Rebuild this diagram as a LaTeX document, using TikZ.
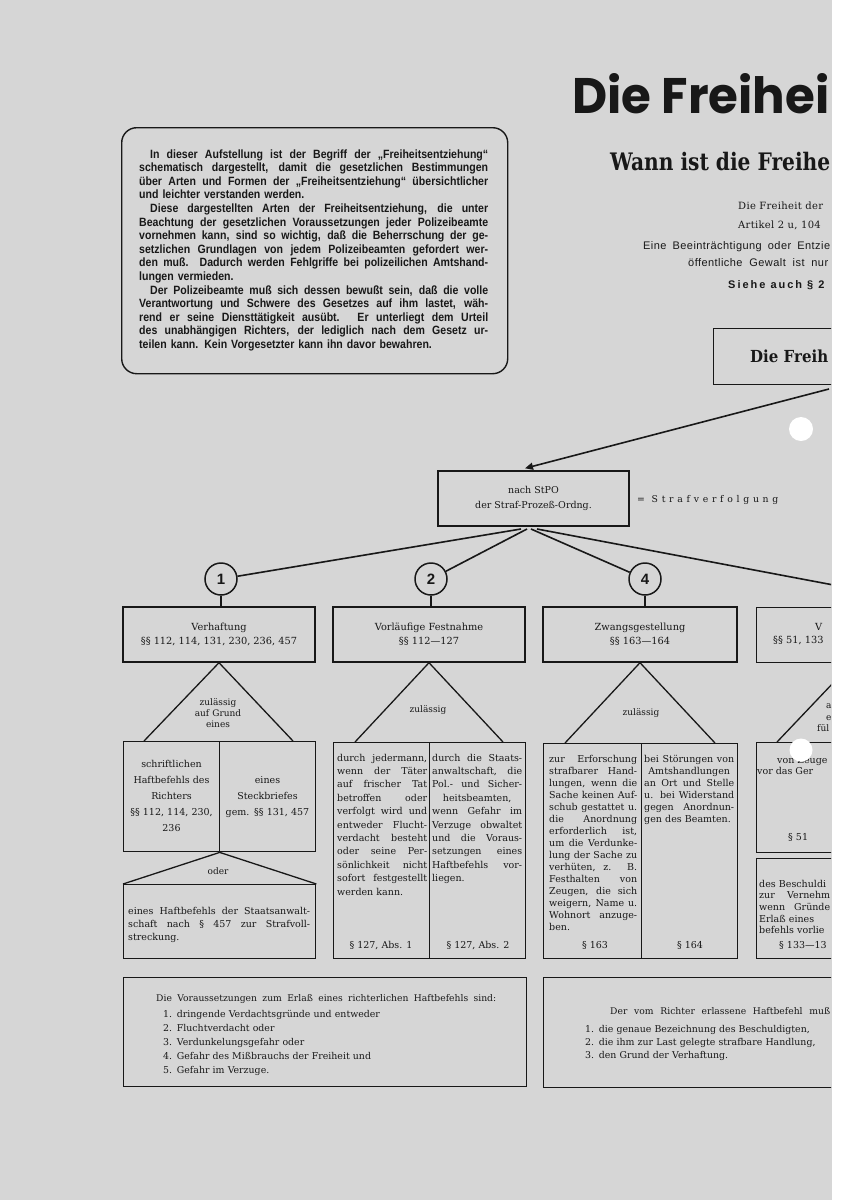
\documentclass[tikz,border=0pt]{standalone}
\usepackage{fontspec}
\usepackage{graphicx}
\setmainfont{DejaVu Serif}
\newfontfamily\introfont{Liberation Sans}[FakeStretch=0.88]
\newfontfamily\titlefont{Poppins}
\newfontfamily\slabfont{DejaVu Serif}
\newfontfamily\serifsp{DejaVu Serif}[LetterSpace=3]
\newfontfamily\sanssp{Liberation Sans}[LetterSpace=4]
\newfontfamily\sanswide{Liberation Sans}[LetterSpace=18]
\newfontfamily\numfont{Liberation Sans}
\newfontfamily\serifwide{DejaVu Serif}[LetterSpace=40]
\usetikzlibrary{arrows.meta}
\definecolor{paper}{RGB}{214,214,214}
\definecolor{inkc}{RGB}{24,24,24}
\newcommand\lnJ[1]{\makebox[\linewidth][s]{\spaceskip=0pt\xspaceskip=0pt #1}\par}
\newcommand\lnC[1]{\makebox[\linewidth][c]{#1}\par}
\newcommand\lnL[1]{\makebox[\linewidth][l]{#1}\par}
\tikzset{
  bx/.style={draw=inkc, line width=1.4pt, rectangle, inner sep=0pt, text=inkc},
  conn/.style={draw=inkc, line width=1.6pt},
  txt/.style={inner sep=0pt, text=inkc, anchor=base west},
  hd/.style={font=\fontsize{9.8}{14}\selectfont},
  col/.style={txt, font=\fontsize{9.5}{13.4}\selectfont},
  num/.style={circle, draw=inkc, line width=1.5pt, minimum size=32pt, inner sep=0pt, text=inkc,
              font=\numfont\bfseries\fontsize{15}{15}\selectfont},
}
\begin{document}
\begin{tikzpicture}[x=1pt,y=-1pt]
\useasboundingbox (0,0) rectangle (852,1200);
\fill[paper] (0,0) rectangle (832,1200);
\fill[white] (832,0) rectangle (852,1200);
\begin{scope}
\clip (0,0) rectangle (831,1200);

% ---------- title area ----------
\node[txt] (title) at (572,113) {\resizebox{257pt}{40pt}{\titlefont\bfseries Die Freihei}};
\node[txt] (subtitle) at (610,170) {\resizebox{220pt}{18.3pt}{\slabfont\bfseries Wann ist die Freihe}};
\node[txt, font=\serifsp\fontsize{10}{11}\selectfont] (r1) at (738,209.5) {Die Freiheit der};
\node[txt, font=\serifsp\fontsize{10}{11}\selectfont] (r2) at (738,228) {Artikel 2 u, 104};
\node[txt, font=\sanssp\fontsize{11}{12}\selectfont] (r3) at (643,249) {\makebox[187pt][s]{Eine Beeinträchtigung oder Entzie}};
\node[txt, font=\sanssp\fontsize{11}{12}\selectfont] (r4) at (688,266) {\makebox[140pt][s]{öffentliche Gewalt ist nur}};
\node[txt, font=\sanswide\bfseries\fontsize{11}{12}\selectfont] (r5) at (728,288) {Siehe auch § 2};

% ---------- intro box ----------
\node[bx, rounded corners=15pt, minimum width=386, minimum height=246, anchor=north west] (intro) at (121,127) {};
\node[txt, text width=349pt, font=\introfont\bfseries\fontsize{12}{13.6}\selectfont] (introtext) at (139,158) {%
\lnJ{\hspace{11pt}In dieser Aufstellung ist der Begriff der „Freiheitsentziehung“}
\lnJ{schematisch dargestellt, damit die gesetzlichen Bestimmungen}
\lnJ{über Arten und Formen der „Freiheitsentziehung“ übersichtlicher}
\lnL{und leichter verstanden werden.}
\lnJ{\hspace{11pt}Diese dargestellten Arten der Freiheitsentziehung, die unter}
\lnJ{Beachtung der gesetzlichen Voraussetzungen jeder Polizeibeamte}
\lnJ{vornehmen kann, sind so wichtig, daß die Beherrschung der ge-}
\lnJ{setzlichen Grundlagen von jedem Polizeibeamten gefordert wer-}
\lnJ{den muß. Dadurch werden Fehlgriffe bei polizeilichen Amtshand-}
\lnL{lungen vermieden.}
\lnJ{\hspace{11pt}Der Polizeibeamte muß sich dessen bewußt sein, daß die volle}
\lnJ{Verantwortung und Schwere des Gesetzes auf ihm lastet, wäh-}
\lnJ{rend er seine Diensttätigkeit ausübt. Er unterliegt dem Urteil}
\lnJ{des unabhängigen Richters, der lediglich nach dem Gesetz ur-}
\lnL{teilen kann. Kein Vorgesetzter kann ihn davor bewahren.}};

% ---------- Die Freih box + arrow ----------
\node[bx, minimum width=187, minimum height=56, anchor=north west] (freih) at (713,328) {};
\node[txt] (freihtext) at (750,362) {\resizebox{78pt}{12.6pt}{\slabfont\bfseries Die Freih}};
\node[bx, minimum width=191, minimum height=55, align=center, font=\fontsize{9.5}{15}\selectfont] (stpo) at (533.5,498.5) {nach StPO\\der Straf-Prozeß-Ordng.};
\coordinate (a0) at (829,389);
\draw[conn, -{Triangle[length=8pt,width=7pt]}] (a0) -- ([xshift=-8.5pt,yshift=2pt]stpo.north);
\node[txt, font=\serifwide\fontsize{9.3}{11}\selectfont] (strafv) at (637,502) {= Strafverfolgung};

% ---------- circles ----------
\node[num] (c1) at (221,579) {1};
\node[num] (c2) at (431,579) {2};
\node[num] (c4) at (645,579) {4};
\coordinate (s1) at (521,529);
\coordinate (s2) at (527,529);
\coordinate (s4) at (531,529);
\coordinate (s5) at (537,529);
\coordinate (r5end) at (860,590);
\draw[conn] (s1) -- (c1);
\draw[conn] (s2) -- (c2);
\draw[conn] (s4) -- (c4);
\draw[conn] (s5) -- (r5end);

% ---------- heading boxes ----------
\node[bx, hd, minimum width=192, minimum height=55, align=center] (b1) at (219,634.5) {Verhaftung\\§§ 112, 114, 131, 230, 236, 457};
\node[bx, hd, minimum width=192, minimum height=55, align=center] (b2) at (429,634.5) {Vorläufige Festnahme\\§§ 112—127};
\node[bx, hd, minimum width=194, minimum height=55, align=center] (b4) at (640,634.5) {Zwangsgestellung\\§§ 163—164};
\node[bx, minimum width=150, minimum height=55, anchor=north west] (b5) at (756,607) {};
\node[txt, font=\fontsize{9.8}{14}\selectfont] (b5a) at (815,630) {V};
\node[txt, font=\fontsize{9.8}{14}\selectfont] (b5b) at (773,643) {§§ 51, 133};
\draw[conn] (c1.south) -- (c1.south |- b1.north);
\draw[conn] (c2.south) -- (c2.south |- b2.north);
\draw[conn] (c4.south) -- (c4.south |- b4.north);

% ---------- triangles ----------
\coordinate (t1l) at (144,741); \coordinate (t1r) at (293,741);
\coordinate (t2l) at (355,742); \coordinate (t2r) at (503,742);
\coordinate (t4l) at (565,743); \coordinate (t4r) at (715,743);
\coordinate (t5l) at (777,742); \coordinate (t5a) at (853,662);
\draw[conn, line width=1.3pt] (t1l) -- (b1.south) -- (t1r);
\draw[conn, line width=1.3pt] (t2l) -- (b2.south) -- (t2r);
\draw[conn, line width=1.3pt] (t4l) -- (b4.south) -- (t4r);
\draw[conn, line width=1.3pt] (t5l) -- (t5a);
\node[col, anchor=base, text width=80pt, font=\fontsize{9}{11}\selectfont] (t1txt) at (218,705) {\lnC{zulässig}\lnC{auf Grund}\lnC{eines}};
\node[txt, anchor=base, font=\fontsize{9}{11}\selectfont] (t2txt) at (428,712) {zulässig};
\node[txt, anchor=base, font=\fontsize{9}{11}\selectfont] (t4txt) at (641,715) {zulässig};
\node[txt, font=\fontsize{9}{11}\selectfont] (t5a1) at (826,708) {a};
\node[txt, font=\fontsize{9}{11}\selectfont] (t5a2) at (826,720) {e};
\node[txt, font=\fontsize{9}{11}\selectfont] (t5a3) at (817,731) {fül};

% ---------- column 1 ----------
\node[bx, minimum width=192, minimum height=110, anchor=north west] (p1) at (123,741) {};
\draw[bx] (p1.north) -- (p1.south);
\node[col, anchor=base, text width=95pt, font=\fontsize{9.5}{16}\selectfont] (p1l) at (171.5,767)
  {\lnC{schriftlichen}\lnC{Haftbefehls des}\lnC{Richters}\lnC{§§ 112, 114, 230,}\lnC{236}};
\node[col, anchor=base, text width=92pt, font=\fontsize{9.5}{16}\selectfont] (p1r) at (267.5,783)
  {\lnC{eines}\lnC{Steckbriefes}\lnC{gem. §§ 131, 457}};
\node[bx, minimum width=192, minimum height=74, anchor=north west] (p1b) at (123,884) {};
\draw[conn, line width=1.3pt] (p1b.north west) -- (p1.south) -- (p1b.north east);
\node[txt, anchor=base, font=\fontsize{9}{11}\selectfont] (oder) at (218,874) {oder};
\node[col, text width=182pt, font=\fontsize{9.5}{13}\selectfont] (p1bt) at (128,914)
  {\lnJ{eines Haftbefehls der Staatsanwalt-}\lnJ{schaft nach § 457 zur Strafvoll-}\lnL{streckung.}};

% ---------- column 2 ----------
\node[bx, minimum width=192, minimum height=216, anchor=north west] (p2) at (333,742) {};
\draw[bx] (p2.north) -- (p2.south);
\node[col, text width=90pt] (p2l) at (337,761) {%
\lnJ{durch jedermann,}\lnJ{wenn der Täter}\lnJ{auf frischer Tat}\lnJ{betroffen oder}%
\lnJ{verfolgt wird und}\lnJ{entweder Flucht-}\lnJ{verdacht besteht}\lnJ{oder seine Per-}%
\lnJ{sönlichkeit nicht}\lnJ{sofort festgestellt}\lnL{werden kann.}};
\node[col, text width=90pt] (p2r) at (432,761) {%
\lnJ{durch die Staats-}\lnJ{anwaltschaft, die}\lnJ{Pol.- und Sicher-}\lnC{heitsbeamten,}%
\lnJ{wenn Gefahr im}\lnJ{Verzuge obwaltet}\lnJ{und die Voraus-}\lnJ{setzungen eines}%
\lnJ{Haftbefehls vor-}\lnL{liegen.}};
\node[txt, anchor=base, font=\fontsize{9.5}{11}\selectfont] (p2lp) at (381,948) {§ 127, Abs. 1};
\node[txt, anchor=base, font=\fontsize{9.5}{11}\selectfont] (p2rp) at (478,948) {§ 127, Abs. 2};

% ---------- column 4 ----------
\node[bx, minimum width=194, minimum height=215, anchor=north west] (p4) at (543,743) {};
\draw[bx] ([xshift=1pt]p4.north) -- ([xshift=1pt]p4.south);
\node[col, text width=88pt, font=\fontsize{9.5}{12}\selectfont] (p4l) at (549,762) {%
\lnJ{zur Erforschung}\lnJ{strafbarer Hand-}\lnJ{lungen, wenn die}\lnJ{Sache keinen Auf-}%
\lnJ{schub gestattet u.}\lnJ{die Anordnung}\lnJ{erforderlich ist,}\lnJ{um die Verdunke-}%
\lnJ{lung der Sache zu}\lnJ{verhüten, z. B.}\lnJ{Festhalten von}\lnJ{Zeugen, die sich}%
\lnJ{weigern, Name u.}\lnJ{Wohnort anzuge-}\lnL{ben.}};
\node[col, text width=90pt, font=\fontsize{9.5}{12}\selectfont] (p4r) at (644,762) {%
\lnJ{bei Störungen von}\lnC{Amtshandlungen}\lnJ{an Ort und Stelle}\lnJ{u. bei Widerstand}%
\lnJ{gegen Anordnun-}\lnL{gen des Beamten.}};
\node[txt, anchor=base, font=\fontsize{9.5}{11}\selectfont] (p4lp) at (595,948) {§ 163};
\node[txt, anchor=base, font=\fontsize{9.5}{11}\selectfont] (p4rp) at (690,948) {§ 164};

% ---------- column 5 (cut) ----------
\node[bx, minimum width=150, minimum height=110, anchor=north west] (p5) at (756,742) {};
\node[txt, font=\fontsize{9.5}{11}\selectfont] (p5a) at (777,763) {von Zeuge};
\node[txt, font=\fontsize{9.5}{11}\selectfont] (p5b) at (757,774) {vor das Ger};
\node[txt, font=\fontsize{9.5}{11}\selectfont] (p5c) at (788,840) {§ 51};
\node[bx, minimum width=150, minimum height=100, anchor=north west] (p6) at (756,858) {};
\node[col, text width=71pt, font=\fontsize{9.5}{11.7}\selectfont] (p6t) at (759,887) {%
\lnL{des Beschuldi}\lnJ{zur Vernehm}\lnJ{wenn Gründe}\lnL{Erlaß eines}\lnL{befehls vorlie}};
\node[txt, font=\fontsize{9.5}{11}\selectfont] (p6p) at (779,948) {§ 133—13};

% ---------- bottom boxes ----------
\node[bx, minimum width=403, minimum height=109, anchor=north west] (q1) at (123,977) {};
\node[txt, font=\fontsize{9.2}{14}\selectfont] (q1h) at (156,1001) {\makebox[340pt][s]{Die Voraussetzungen zum Erlaß eines richterlichen Haftbefehls sind:}};
\node[col, text width=300pt, font=\fontsize{9.4}{14}\selectfont] (q1t) at (163,1017) {%
\lnL{1. dringende Verdachtsgründe und entweder}\lnL{2. Fluchtverdacht oder}%
\lnL{3. Verdunkelungsgefahr oder}\lnL{4. Gefahr des Mißbrauchs der Freiheit und}%
\lnL{5. Gefahr im Verzuge.}};
\node[bx, minimum width=350, minimum height=110, anchor=north west] (q2) at (543,977) {};
\node[txt, font=\fontsize{9.2}{14}\selectfont] (q2h) at (610,1014) {\makebox[220pt][s]{Der vom Richter erlassene Haftbefehl muß}};
\node[col, text width=260pt, font=\fontsize{9.4}{13}\selectfont] (q2t) at (585,1032) {%
\lnL{1. die genaue Bezeichnung des Beschuldigten,}%
\lnL{2. die ihm zur Last gelegte strafbare Handlung,}%
\lnL{3. den Grund der Verhaftung.}};

% ---------- punch holes ----------
\fill[white] (801,429) circle[radius=12pt];
\fill[white] (801,750) circle[radius=11.5pt];
\end{scope}
\end{tikzpicture}
\end{document}
